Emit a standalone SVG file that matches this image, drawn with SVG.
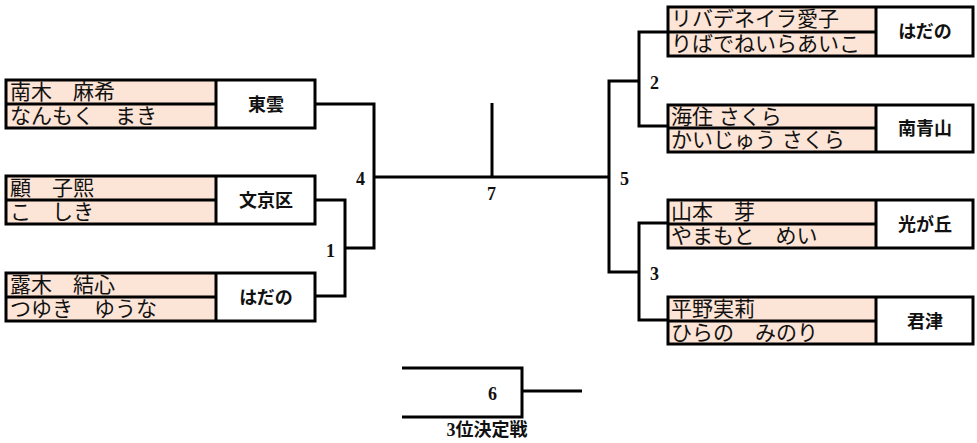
<svg xmlns="http://www.w3.org/2000/svg" width="977" height="443" viewBox="0 0 977 443">
<style>
.bg{fill:#ffffff}
.name{fill:#fce4d6}
.box{fill:none;stroke:#000;stroke-width:3}
.ln{fill:none;stroke:#000;stroke-width:3}
.nm{font-family:"Liberation Sans","Noto Sans CJK JP",sans-serif;font-size:21px;fill:#111}
.sc{font-family:"Liberation Serif","Noto Sans CJK JP",serif;font-size:18px;font-weight:bold;fill:#111;text-anchor:middle}
.num{font-family:"Liberation Serif","Noto Sans CJK JP",serif;font-size:18px;font-weight:bold;fill:#111}
</style>
<rect class="bg" x="0" y="0" width="977" height="443"/>
<g id="connectors">
<polyline class="ln" points="315,104 374,104 374,248 345,248"/>
<polyline class="ln" points="315,200 345,200 345,296 315,296"/>
<line class="ln" x1="374" y1="177" x2="609" y2="177"/>
<line class="ln" x1="492" y1="103" x2="492" y2="177"/>
<polyline class="ln" points="639,81 609,81 609,272 639,272"/>
<polyline class="ln" points="668,32 639,32 639,126 668,126"/>
<polyline class="ln" points="668,223 639,223 639,320 668,320"/>
<polyline class="ln" points="402,368 522,368 522,417 402,417"/>
<line class="ln" x1="522" y1="391" x2="582" y2="391"/>
</g>
<g id="labels">
<text class="num" x="356" y="185">4</text>
<text class="num" x="487" y="200">7</text>
<text class="num" x="326" y="257">1</text>
<text class="num" x="620" y="185">5</text>
<text class="num" x="650" y="89">2</text>
<text class="num" x="650" y="280">3</text>
<text class="num" x="488" y="400">6</text>
<text class="num" x="487" y="436" text-anchor="middle">3位決定戦</text>
</g>
<g id="L1">
<rect class="name" x="6" y="80" width="210" height="48"/>
<rect class="box" x="6" y="80" width="309" height="48"/>
<line class="ln" x1="6" y1="104" x2="216" y2="104"/>
<line class="ln" x1="216" y1="80" x2="216" y2="128"/>
<text class="nm" x="10" y="99">南木　麻希</text>
<text class="nm" x="10" y="123">なんもく　まき</text>
<text class="sc" x="266" y="111">東雲</text>
</g>
<g id="L2">
<rect class="name" x="6" y="176" width="210" height="48"/>
<rect class="box" x="6" y="176" width="309" height="48"/>
<line class="ln" x1="6" y1="200" x2="216" y2="200"/>
<line class="ln" x1="216" y1="176" x2="216" y2="224"/>
<text class="nm" x="10" y="195">顧　子熙</text>
<text class="nm" x="10" y="219">こ　しき</text>
<text class="sc" x="266" y="207">文京区</text>
</g>
<g id="L3">
<rect class="name" x="6" y="273" width="210" height="48"/>
<rect class="box" x="6" y="273" width="309" height="48"/>
<line class="ln" x1="6" y1="297" x2="216" y2="297"/>
<line class="ln" x1="216" y1="273" x2="216" y2="321"/>
<text class="nm" x="10" y="292">露木　結心</text>
<text class="nm" x="10" y="316">つゆき　ゆうな</text>
<text class="sc" x="266" y="304">はだの</text>
</g>
<g id="R1">
<rect class="name" x="668" y="7" width="208" height="49"/>
<rect class="box" x="668" y="7" width="305" height="49"/>
<line class="ln" x1="668" y1="32" x2="876" y2="32"/>
<line class="ln" x1="876" y1="7" x2="876" y2="56"/>
<text class="nm" x="671" y="26">リバデネイラ愛子</text>
<text class="nm" x="671" y="51">りばでねいらあいこ</text>
<text class="sc" x="925" y="38">はだの</text>
</g>
<g id="R2">
<rect class="name" x="668" y="105" width="208" height="47"/>
<rect class="box" x="668" y="105" width="305" height="47"/>
<line class="ln" x1="668" y1="128" x2="876" y2="128"/>
<line class="ln" x1="876" y1="105" x2="876" y2="152"/>
<text class="nm" x="671" y="124">海住 さくら</text>
<text class="nm" x="671" y="147">かいじゅう さくら</text>
<text class="sc" x="925" y="135">南青山</text>
</g>
<g id="R3">
<rect class="name" x="668" y="200" width="208" height="48"/>
<rect class="box" x="668" y="200" width="305" height="48"/>
<line class="ln" x1="668" y1="224" x2="876" y2="224"/>
<line class="ln" x1="876" y1="200" x2="876" y2="248"/>
<text class="nm" x="671" y="219">山本　芽</text>
<text class="nm" x="671" y="243">やまもと　めい</text>
<text class="sc" x="925" y="231">光が丘</text>
</g>
<g id="R4">
<rect class="name" x="668" y="297" width="208" height="47"/>
<rect class="box" x="668" y="297" width="305" height="47"/>
<line class="ln" x1="668" y1="321" x2="876" y2="321"/>
<line class="ln" x1="876" y1="297" x2="876" y2="344"/>
<text class="nm" x="671" y="316">平野実莉</text>
<text class="nm" x="671" y="340">ひらの　みのり</text>
<text class="sc" x="925" y="328">君津</text>
</g>
</svg>
